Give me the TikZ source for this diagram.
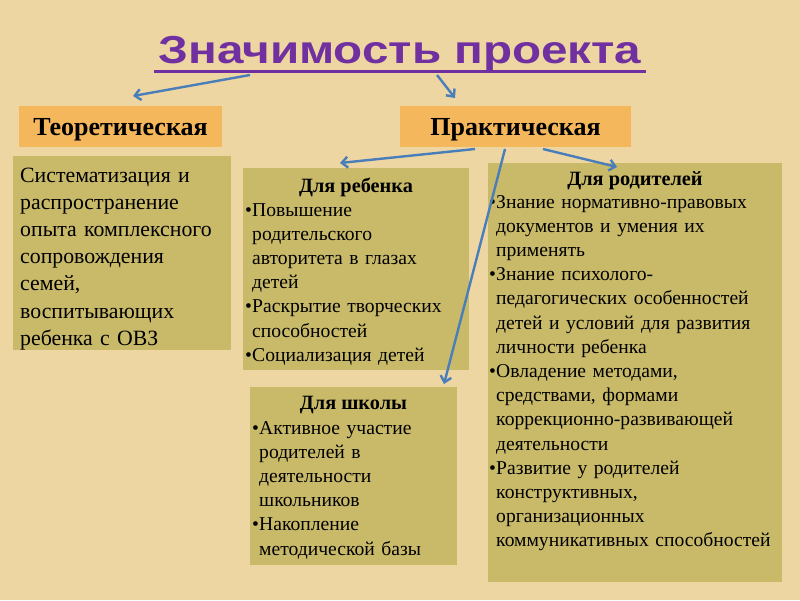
\documentclass[tikz,border=0pt]{standalone}
\usepackage{fontspec}
\setmainfont{Liberation Serif}
\newfontfamily\titlefont{Liberation Sans}
\usetikzlibrary{arrows.meta,calc}
\definecolor{bg}{RGB}{237,214,162}
\definecolor{orng}{RGB}{245,183,92}
\definecolor{olivebox}{RGB}{201,186,106}
\definecolor{ttl}{RGB}{112,48,160}
\definecolor{arr}{RGB}{74,126,187}
\newcommand{\bul}{\noindent\makebox[7pt][l]{•}}
\newcommand{\ii}{\hspace*{7pt}}
\tikzset{
  obox/.style={fill=orng, draw=none, inner sep=0pt, text height=17pt, text depth=0pt, font=\bfseries\fontsize{26}{28}\selectfont},
  gbox/.style={fill=olivebox, draw=none, inner sep=0pt},
  body/.style={anchor=base west, inner sep=0pt, font=\fontsize{19.6}{24.2}\selectfont},
  hd/.style={anchor=base, inner sep=0pt, font=\bfseries\fontsize{20.3}{24}\selectfont},
  conn/.style={draw=arr, line width=2.4pt, -{Straight Barb[length=6pt,width=11pt,line width=2.4pt]}}
}
\begin{document}
\begin{tikzpicture}[x=1pt,y=-1pt]
\fill[bg] (0,0) rectangle (800,600);
\useasboundingbox (0,0) rectangle (800,600);

% title
\node[anchor=base, inner sep=0pt, text=ttl, font=\titlefont\bfseries\fontsize{39}{44}\selectfont] (title) at (400,63) {\scalebox{1.22}[1]{Значимость проекта}};
\draw[ttl, line width=3pt] ($(title.base west)+(-4,8.5)$) -- ($(title.base east)+(4,8.5)$);

% orange boxes
\node[obox, minimum width=203pt, minimum height=41pt] (teor) at (120.5,126.5) {Теоретическая};
\node[obox, minimum width=231pt, minimum height=41pt] (prakt) at (515.5,126.5) {Практическая};

% olive boxes
\node[gbox, minimum width=218pt, minimum height=194pt] (sys) at (122,253) {};
\node[gbox, minimum width=226pt, minimum height=202pt] (reb) at (356,269) {};
\node[gbox, minimum width=294pt, minimum height=419pt] (rod) at (635,372.5) {};
\node[gbox, minimum width=207pt, minimum height=178pt] (shk) at (353.5,476) {};

% left text
\node[body, text width=215pt, font=\fontsize{21.8}{27.2}\selectfont] (systxt) at (20,182)
{Систематизация и\\распространение\\опыта комплексного\\сопровождения\\семей,\\воспитывающих\\ребенка с ОВЗ};

% child
\node[hd] (rebh) at (356,192) {Для ребенка};
\node[body, text width=225pt] (rebtxt) at (245,216)
{\bul Повышение\\\ii родительского\\\ii авторитета в глазах\\\ii детей\par
\bul Раскрытие творческих\\\ii способностей\par
\bul Социализация детей};

% parents
\node[hd] (rodh) at (635,185) {Для родителей};
\node[body, text width=292pt] (rodtxt) at (489,208)
{\bul Знание нормативно-правовых\\\ii документов и умения их\\\ii применять\par
\bul Знание психолого-\\\ii педагогических особенностей\\\ii детей и условий для развития\\\ii личности ребенка\par
\bul Овладение методами,\\\ii средствами, формами\\\ii коррекционно-развивающей\\\ii деятельности\par
\bul Развитие у родителей\\\ii конструктивных,\\\ii организационных\\\ii коммуникативных способностей};

% school
\node[hd] (shkh) at (353.5,409) {Для школы};
\node[body, text width=205pt] (shktxt) at (252,434)
{\bul Активное участие\\\ii родителей в\\\ii деятельности\\\ii школьников\par
\bul Накопление\\\ii методической базы};

% connectors
\coordinate (t1) at (250,75);
\coordinate (t2) at (437,75);
\coordinate (e1) at (133,96);
\coordinate (e2) at (455,98);
\coordinate (p1) at (475,149);
\coordinate (p2) at (505,149);
\coordinate (p3) at (543,149);
\coordinate (e3) at (340,163);
\coordinate (e4) at (444,384);
\coordinate (e5) at (617,167);
\draw[conn] (t1) -- (e1);
\draw[conn] (t2) -- (e2);
\draw[conn] (p1) -- (e3);
\draw[conn] (p2) -- (e4);
\draw[conn] (p3) -- (e5);
\end{tikzpicture}
\end{document}
